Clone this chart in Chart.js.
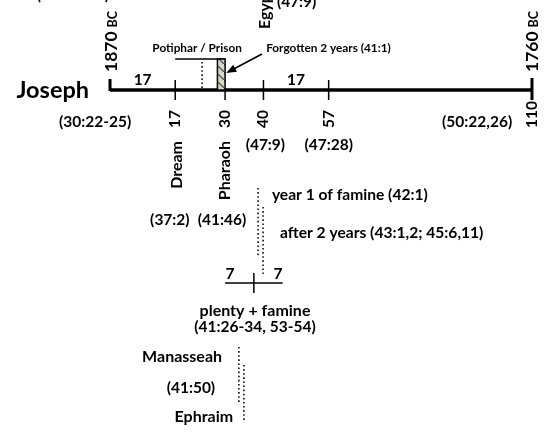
<!DOCTYPE html>
<html>
<head>
    <title>Joseph</title>
    <script src="https://cdn.jsdelivr.net/npm/chart.js"></script>
    <style>
        body { margin: 0; background: #fff; }
        #wrap { width: 550px; height: 433px; }
    </style>
</head>
<body>
    <div id="wrap"><canvas id="plot"></canvas></div>

    <script>
        // Joseph's age (years) along the timeline
        const lifeSpan = [0, 110];
        const yearsBC = ['1870', '1760'];
        const tickAges = [17, 30, 40, 57, 110];
        const tickLabels = ['17', '30', '40', '57', '110'];
        const spanStart = [0, 40];
        const spanEnd = [17, 57];
        const spanLabels = ['17', '17'];
        const endRefs = ['(30:22-25)', '(50:22,26)'];
        const refAges = [40, 57];
        const refLabels = ['(47:9)', '(47:28)'];
        const eventAges = [17, 30];
        const eventNames = ['Dream', 'Pharaoh'];
        const eventRefs = ['(37:2)', '(41:46)'];
        // Potiphar / prison: 17 -> 30, forgotten 2 years 28 -> 30
        const prison = [17, 24, 30];
        const forgotten = [28, 30];
        // 7 years plenty, 7 years famine
        const plentyFamine = [30, 37.5, 45];
        const famineMarks = [38.6, 39.9];
        const famineNotes = ['year 1 of famine (42:1)', 'after 2 years (43:1,2; 45:6,11)'];
        const sons = [33.6, 34.9];
        const sonNames = ['Manasseah', 'Ephraim'];

        const FONT = 'Lato';
        const f = s => 'bold ' + s + 'px ' + FONT;

        // line datasets
        const sets = [];
        function seg(x1, y1, x2, y2, w, dash) {
            sets.push({
                data: [{ x: x1, y: y1 }, { x: x2, y: y2 }],
                borderColor: '#000', borderWidth: w, borderDash: dash || [],
                showLine: true, pointRadius: 0, clip: false
            });
        }
        const dots = [1.6, 2.5];
        seg(lifeSpan[0], 90, lifeSpan[1], 90, 3.5);
        seg(lifeSpan[0], 79, lifeSpan[0], 91, 3);
        seg(lifeSpan[1], 78, lifeSpan[1], 100, 3);
        tickAges.slice(0, 4).forEach(a => seg(a, a === prison[2] ? 90 : 80, a, 100, 1.5));
        seg(prison[0], 59, prison[2], 59, 1.5);
        seg(prison[1], 62, prison[1], 88, 1.5, dots);
        seg(plentyFamine[0], 283, plentyFamine[2], 283, 1.5);
        seg(plentyFamine[1], 273, plentyFamine[1], 293, 1.5);
        seg(famineMarks[0], 188, famineMarks[0], 257, 1.5, dots);
        seg(famineMarks[1], 207, famineMarks[1], 274, 1.5, dots);
        seg(sons[0], 347, sons[0], 403, 1.5, dots);
        seg(sons[1], 365, sons[1], 420, 1.5, dots);

        // texts: [text, age, row, size, align, rotated]
        const texts = [
            ['Joseph', -24.4, 90, 23.5, 'left'],
            ['(35:16-29)', -9.7, -5, 15.5, 'center'],
            ['Egypt', 40.4, 29, 16, 'left', true],
            ['(47:9)', 43.5, 2, 15.5, 'left'],
            [spanLabels[0], (spanStart[0] + spanEnd[0]) / 2, 80, 15.5, 'center'],
            [spanLabels[1], (spanStart[1] + spanEnd[1]) / 2, 80, 15.5, 'center'],
            [endRefs[0], -3.9, 122, 15.5, 'center'],
            [endRefs[1], 95.7, 122, 15.5, 'center'],
            [refLabels[0], refAges[0] + 0.5, 145, 15.5, 'center'],
            [refLabels[1], refAges[1], 145, 15.5, 'center'],
            [eventNames[0], eventAges[0] + 0.5, 141, 16, 'right', true],
            [eventNames[1], eventAges[1], 141, 16, 'right', true],
            [eventRefs[0], 15.6, 220, 15.5, 'center'],
            [eventRefs[1], 29.2, 220, 15.5, 'center'],
            ['Potiphar / Prison', 22.7, 48, 11.8, 'center'],
            ['Forgotten 2 years (41:1)', 40.7, 48, 11.8, 'left'],
            [famineNotes[0], 42.2, 195, 15.6, 'left'],
            [famineNotes[1], 44.3, 233, 15.6, 'left'],
            ['7', 31.3, 274, 15.5, 'center'],
            ['7', 43.8, 274, 15.5, 'center'],
            ['plenty + famine', 37.8, 311, 16, 'center'],
            ['(41:26-34, 53-54)', 37.8, 327, 15.5, 'center'],
            [sonNames[0], 29.2, 357, 16, 'right'],
            ['(41:50)', 27.4, 388, 15.5, 'right'],
            [sonNames[1], 32.1, 417, 16, 'right']
        ];
        tickAges.forEach((a, i) => texts.push([tickLabels[i], a, 128, 15.5, 'left', true]));

        const annotate = {
            id: 'annotate',
            afterDatasetsDraw(chart) {
                const ctx = chart.ctx;
                const X = v => chart.scales.x.getPixelForValue(v);
                const Y = v => chart.scales.y.getPixelForValue(v);
                ctx.save();

                // forgotten 2 years box, hatched
                const pc = document.createElement('canvas');
                pc.width = 8; pc.height = 8;
                const p = pc.getContext('2d');
                p.fillStyle = '#d4d8c4';
                p.fillRect(0, 0, 8, 8);
                p.strokeStyle = '#555';
                p.lineWidth = 1.3;
                p.beginPath();
                p.moveTo(-2, -2); p.lineTo(10, 10);
                p.stroke();
                const bx = X(forgotten[0]), bw = X(forgotten[1]) - bx;
                ctx.fillStyle = ctx.createPattern(pc, 'repeat');
                ctx.fillRect(bx, Y(59), bw, Y(90) - Y(59));
                ctx.strokeStyle = '#000';
                ctx.lineWidth = 1.5;
                ctx.strokeRect(bx, Y(59), bw, Y(90) - Y(59));

                // arrow to the box
                const x1 = X(39.6), y1 = Y(54), x2 = X(30.3), y2 = Y(73);
                const ang = Math.atan2(y2 - y1, x2 - x1);
                ctx.beginPath();
                ctx.moveTo(x1, y1);
                ctx.lineTo(x2 - 8 * Math.cos(ang), y2 - 8 * Math.sin(ang));
                ctx.stroke();
                ctx.fillStyle = '#000';
                ctx.beginPath();
                ctx.moveTo(x2, y2);
                ctx.lineTo(x2 - 10 * Math.cos(ang) + 4 * Math.sin(ang), y2 - 10 * Math.sin(ang) - 4 * Math.cos(ang));
                ctx.lineTo(x2 - 10 * Math.cos(ang) - 4 * Math.sin(ang), y2 - 10 * Math.sin(ang) + 4 * Math.cos(ang));
                ctx.closePath();
                ctx.fill();

                // texts
                ctx.fillStyle = '#000';
                ctx.textBaseline = 'middle';
                texts.forEach(([t, a, r, s, al, rot]) => {
                    ctx.font = f(s);
                    ctx.textAlign = al;
                    if (rot) {
                        ctx.save();
                        ctx.translate(X(a), Y(r));
                        ctx.rotate(-Math.PI / 2);
                        ctx.fillText(t, 0, 0);
                        ctx.restore();
                    } else {
                        ctx.fillText(t, X(a), Y(r));
                    }
                });

                // years BC at both ends, rotated, sharing one baseline
                ctx.textBaseline = 'alphabetic';
                yearsBC.forEach((yr, i) => {
                    ctx.save();
                    ctx.translate(X(lifeSpan[i]) + 6.5, Y(72));
                    ctx.rotate(-Math.PI / 2);
                    ctx.textAlign = 'left';
                    ctx.font = f(17.5);
                    ctx.fillText(yr, 0, 0);
                    const w = ctx.measureText(yr).width;
                    ctx.font = f(12.5);
                    ctx.fillText('BC', w + 4, 0);
                    ctx.restore();
                });
                ctx.restore();
            }
        };

        new Chart(document.getElementById('plot'), {
            type: 'scatter',
            data: { datasets: sets },
            options: {
                responsive: true,
                maintainAspectRatio: false,
                animation: false,
                layout: { padding: 0 },
                plugins: { legend: { display: false }, tooltip: { enabled: false } },
                scales: {
                    x: { display: false, min: -28.68, max: 114.7 },
                    y: { display: false, min: 0, max: 433, reverse: true }
                }
            },
            plugins: [annotate]
        });
    </script>
</body>
</html>
